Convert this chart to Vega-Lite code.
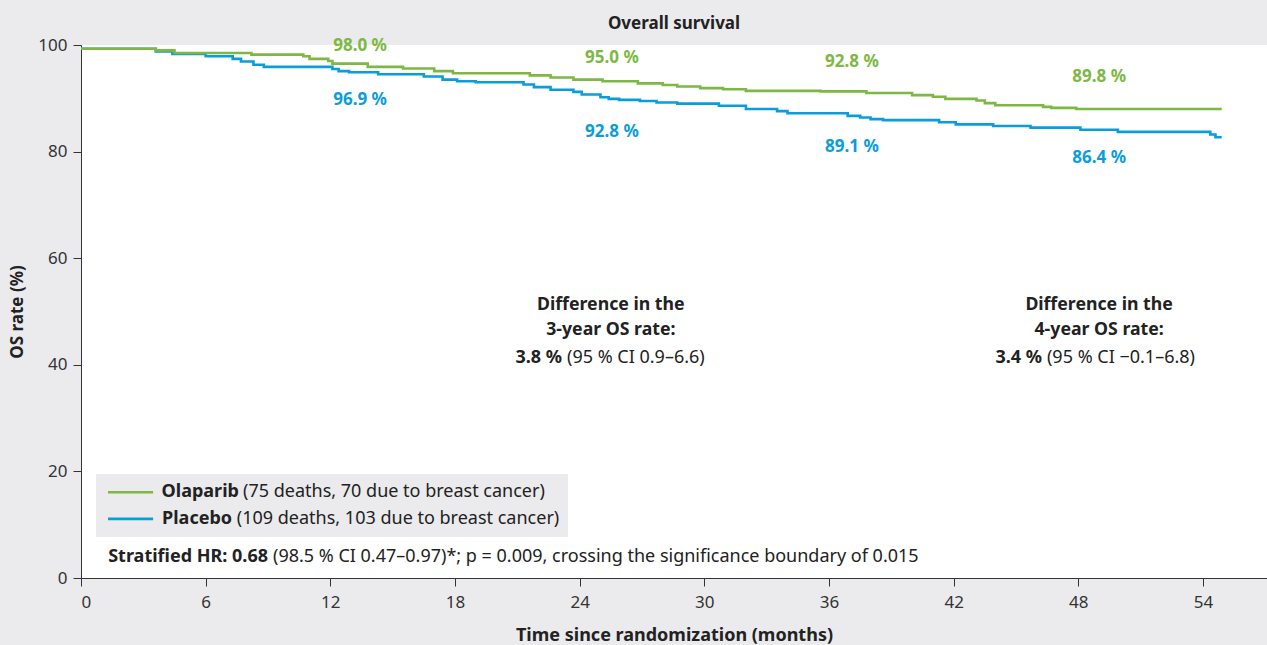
{
  "$schema": "https://vega.github.io/schema/vega-lite/v6.json",
  "width": 1186,
  "height": 533,
  "autosize": {"type": "none"},
  "padding": {"left": 81, "top": 45, "right": 0, "bottom": 67},
  "background": "#ebebed",
  "view": {"fill": "white", "stroke": null},
  "config": {"font": "Noto Sans"},
  "title": {"text": "Overall survival", "fontSize": 17, "fontWeight": "bold", "color": "#222222", "anchor": "middle", "offset": 3, "font": "Noto Sans"},
  "datasets": {
    "km": [
      {"arm": "Olaparib", "month": 0, "os": 99.3},
      {"arm": "Olaparib", "month": 3.6, "os": 99.0},
      {"arm": "Olaparib", "month": 4.5, "os": 98.5},
      {"arm": "Olaparib", "month": 8.2, "os": 98.2},
      {"arm": "Olaparib", "month": 10.7, "os": 97.9},
      {"arm": "Olaparib", "month": 11.0, "os": 97.4},
      {"arm": "Olaparib", "month": 11.9, "os": 97.0},
      {"arm": "Olaparib", "month": 12.1, "os": 96.5},
      {"arm": "Olaparib", "month": 13.8, "os": 95.9},
      {"arm": "Olaparib", "month": 15.5, "os": 95.6},
      {"arm": "Olaparib", "month": 17.0, "os": 95.1},
      {"arm": "Olaparib", "month": 17.9, "os": 94.7},
      {"arm": "Olaparib", "month": 21.6, "os": 94.3},
      {"arm": "Olaparib", "month": 22.6, "os": 93.9},
      {"arm": "Olaparib", "month": 23.7, "os": 93.5},
      {"arm": "Olaparib", "month": 25.1, "os": 93.2},
      {"arm": "Olaparib", "month": 26.8, "os": 92.8},
      {"arm": "Olaparib", "month": 28.0, "os": 92.5},
      {"arm": "Olaparib", "month": 28.7, "os": 92.2},
      {"arm": "Olaparib", "month": 29.8, "os": 91.9},
      {"arm": "Olaparib", "month": 30.9, "os": 91.7},
      {"arm": "Olaparib", "month": 32.0, "os": 91.4},
      {"arm": "Olaparib", "month": 35.6, "os": 91.3},
      {"arm": "Olaparib", "month": 37.8, "os": 91.0},
      {"arm": "Olaparib", "month": 40.0, "os": 90.6},
      {"arm": "Olaparib", "month": 41.0, "os": 90.3},
      {"arm": "Olaparib", "month": 41.6, "os": 89.9},
      {"arm": "Olaparib", "month": 43.1, "os": 89.6},
      {"arm": "Olaparib", "month": 43.5, "os": 89.1},
      {"arm": "Olaparib", "month": 44.0, "os": 88.7},
      {"arm": "Olaparib", "month": 46.3, "os": 88.4},
      {"arm": "Olaparib", "month": 46.7, "os": 88.2},
      {"arm": "Olaparib", "month": 47.9, "os": 88.0},
      {"arm": "Olaparib", "month": 54.9, "os": 88.0},
      {"arm": "Placebo", "month": 0, "os": 99.3},
      {"arm": "Placebo", "month": 3.6, "os": 98.8},
      {"arm": "Placebo", "month": 4.4, "os": 98.3},
      {"arm": "Placebo", "month": 6.0, "os": 97.9},
      {"arm": "Placebo", "month": 7.3, "os": 97.4},
      {"arm": "Placebo", "month": 7.7, "os": 96.9},
      {"arm": "Placebo", "month": 8.3, "os": 96.3},
      {"arm": "Placebo", "month": 8.8, "os": 95.9},
      {"arm": "Placebo", "month": 12.1, "os": 95.5},
      {"arm": "Placebo", "month": 12.4, "os": 95.1},
      {"arm": "Placebo", "month": 12.9, "os": 94.9},
      {"arm": "Placebo", "month": 14.3, "os": 94.5},
      {"arm": "Placebo", "month": 16.5, "os": 94.1},
      {"arm": "Placebo", "month": 17.4, "os": 93.5},
      {"arm": "Placebo", "month": 18.1, "os": 93.2},
      {"arm": "Placebo", "month": 19.0, "os": 93.0},
      {"arm": "Placebo", "month": 21.3, "os": 92.6},
      {"arm": "Placebo", "month": 21.8, "os": 92.1},
      {"arm": "Placebo", "month": 22.6, "os": 91.6},
      {"arm": "Placebo", "month": 23.7, "os": 91.2},
      {"arm": "Placebo", "month": 24.1, "os": 90.7},
      {"arm": "Placebo", "month": 25.0, "os": 90.2},
      {"arm": "Placebo", "month": 25.4, "os": 89.9},
      {"arm": "Placebo", "month": 25.9, "os": 89.7},
      {"arm": "Placebo", "month": 26.9, "os": 89.5},
      {"arm": "Placebo", "month": 27.7, "os": 89.2},
      {"arm": "Placebo", "month": 28.7, "os": 89.0},
      {"arm": "Placebo", "month": 30.7, "os": 88.6},
      {"arm": "Placebo", "month": 32.0, "os": 88.0},
      {"arm": "Placebo", "month": 33.5, "os": 87.6},
      {"arm": "Placebo", "month": 34.0, "os": 87.2},
      {"arm": "Placebo", "month": 36.9, "os": 86.7},
      {"arm": "Placebo", "month": 37.5, "os": 86.4},
      {"arm": "Placebo", "month": 38.0, "os": 86.1},
      {"arm": "Placebo", "month": 38.6, "os": 85.9},
      {"arm": "Placebo", "month": 41.3, "os": 85.5},
      {"arm": "Placebo", "month": 42.1, "os": 85.1},
      {"arm": "Placebo", "month": 43.9, "os": 84.8},
      {"arm": "Placebo", "month": 45.7, "os": 84.5},
      {"arm": "Placebo", "month": 48.1, "os": 84.1},
      {"arm": "Placebo", "month": 49.9, "os": 83.7},
      {"arm": "Placebo", "month": 54.35, "os": 83.2},
      {"arm": "Placebo", "month": 54.6, "os": 82.7},
      {"arm": "Placebo", "month": 54.9, "os": 82.7}
    ],
    "pct": [
      {"arm": "Olaparib", "month": 13.43, "os": 99.8, "label": "98.0 %"},
      {"arm": "Placebo", "month": 13.43, "os": 89.7, "label": "96.9 %"},
      {"arm": "Olaparib", "month": 25.55, "os": 97.6, "label": "95.0 %"},
      {"arm": "Placebo", "month": 25.55, "os": 83.7, "label": "92.8 %"},
      {"arm": "Olaparib", "month": 37.1, "os": 96.8, "label": "92.8 %"},
      {"arm": "Placebo", "month": 37.1, "os": 80.9, "label": "89.1 %"},
      {"arm": "Olaparib", "month": 49.0, "os": 94.0, "label": "89.8 %"},
      {"arm": "Placebo", "month": 49.0, "os": 78.8, "label": "86.4 %"}
    ],
    "legendbox": [{"x1": 0.72, "x2": 23.44, "y1": 7.7, "y2": 19.5}],
    "legendlines": [
      {"arm": "Olaparib", "x1": 1.3, "x2": 3.47, "os": 16.1},
      {"arm": "Placebo", "x1": 1.3, "x2": 3.47, "os": 11.1}
    ],
    "boldCenter": [
      {"month": 25.5, "os": 51.3, "label": "Difference in the"},
      {"month": 25.5, "os": 46.5, "label": "3-year OS rate:"},
      {"month": 49.0, "os": 51.3, "label": "Difference in the"},
      {"month": 49.0, "os": 46.5, "label": "4-year OS rate:"}
    ],
    "boldRight": [
      {"month": 7.6, "os": 16.1, "label": "Olaparib"},
      {"month": 7.27, "os": 11.1, "label": "Placebo"},
      {"month": 9.0, "os": 4.0, "label": "Stratified HR: 0.68"},
      {"month": 23.15, "os": 41.3, "label": "3.8 %"},
      {"month": 46.25, "os": 41.3, "label": "3.4 %"}
    ],
    "regularLeft": [
      {"month": 7.8, "os": 16.1, "label": "(75 deaths, 70 due to breast cancer)"},
      {"month": 7.5, "os": 11.1, "label": "(109 deaths, 103 due to breast cancer)"},
      {"month": 9.24, "os": 4.0, "label": "(98.5 % CI 0.47–0.97)*; p = 0.009, crossing the significance boundary of 0.015"},
      {"month": 23.39, "os": 41.3, "label": "(95 % CI 0.9–6.6)"},
      {"month": 46.49, "os": 41.3, "label": "(95 % CI −0.1–6.8)"}
    ]
  },
  "layer": [
    {
      "data": {"name": "legendbox"},
      "mark": {"type": "rect", "color": "#ebebed"},
      "encoding": {
        "x": {"field": "x1", "type": "quantitative", "scale": {"domain": [0, 57.08], "nice": false, "zero": false},
          "axis": {"values": [0, 6, 12, 18, 24, 30, 36, 42, 48, 54], "grid": false, "domainColor": "#333333", "tickColor": "#333333", "tickSize": 8, "labelFontSize": 17, "labelColor": "#333333", "labelPadding": 8, "title": "Time since randomization (months)", "titleFontSize": 18, "titleFontWeight": "bold", "titleColor": "#222222", "titlePadding": 16}},
        "x2": {"field": "x2"},
        "y": {"field": "y1", "type": "quantitative", "scale": {"domain": [0, 100], "nice": false},
          "axis": {"values": [0, 20, 40, 60, 80, 100], "grid": false, "domainColor": "#333333", "tickColor": "#333333", "tickSize": 8, "labelFontSize": 17, "labelColor": "#333333", "labelPadding": 6, "title": "OS rate (%)", "titleFontSize": 17, "titleFontWeight": "bold", "titleColor": "#222222", "titlePadding": 11}},
        "y2": {"field": "y2"}
      }
    },
    {
      "data": {"name": "km"},
      "transform": [{"filter": "datum.arm === 'Placebo'"}],
      "mark": {"type": "line", "interpolate": "step-after", "strokeWidth": 2.6, "color": "#0a9ddb"},
      "encoding": {
        "x": {"field": "month", "type": "quantitative"},
        "y": {"field": "os", "type": "quantitative"}
      }
    },
    {
      "data": {"name": "km"},
      "transform": [{"filter": "datum.arm === 'Olaparib'"}],
      "mark": {"type": "line", "interpolate": "step-after", "strokeWidth": 2.6, "color": "#7cb843"},
      "encoding": {
        "x": {"field": "month", "type": "quantitative"},
        "y": {"field": "os", "type": "quantitative"}
      }
    },
    {
      "data": {"name": "legendlines"},
      "mark": {"type": "rule", "strokeWidth": 2.6},
      "encoding": {
        "x": {"field": "x1", "type": "quantitative"},
        "x2": {"field": "x2"},
        "y": {"field": "os", "type": "quantitative"},
        "color": {"field": "arm", "type": "nominal", "scale": {"domain": ["Olaparib", "Placebo"], "range": ["#7cb843", "#0a9ddb"]}, "legend": null}
      }
    },
    {
      "data": {"name": "pct"},
      "mark": {"type": "text", "fontWeight": "bold", "fontSize": 17, "align": "center", "baseline": "middle"},
      "encoding": {
        "x": {"field": "month", "type": "quantitative"},
        "y": {"field": "os", "type": "quantitative"},
        "text": {"field": "label"},
        "color": {"field": "arm", "type": "nominal", "legend": null}
      }
    },
    {
      "data": {"name": "boldCenter"},
      "mark": {"type": "text", "fontWeight": "bold", "fontSize": 17.7, "align": "center", "baseline": "middle", "color": "#222222"},
      "encoding": {
        "x": {"field": "month", "type": "quantitative"},
        "y": {"field": "os", "type": "quantitative"},
        "text": {"field": "label"}
      }
    },
    {
      "data": {"name": "boldRight"},
      "mark": {"type": "text", "fontWeight": "bold", "fontSize": 18, "align": "right", "baseline": "middle", "color": "#222222"},
      "encoding": {
        "x": {"field": "month", "type": "quantitative"},
        "y": {"field": "os", "type": "quantitative"},
        "text": {"field": "label"}
      }
    },
    {
      "data": {"name": "regularLeft"},
      "mark": {"type": "text", "fontSize": 18, "align": "left", "baseline": "middle", "color": "#222222"},
      "encoding": {
        "x": {"field": "month", "type": "quantitative"},
        "y": {"field": "os", "type": "quantitative"},
        "text": {"field": "label"}
      }
    }
  ]
}
